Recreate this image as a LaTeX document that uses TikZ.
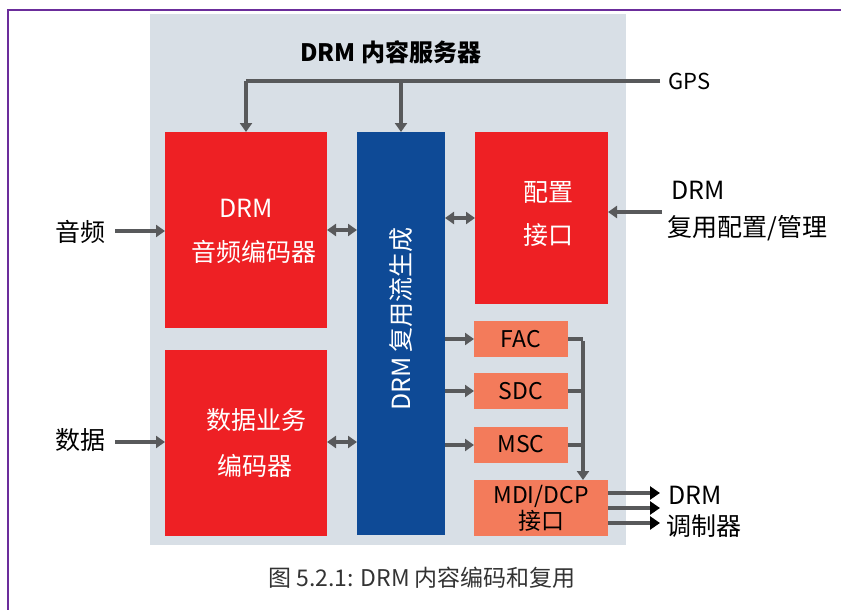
\documentclass[tikz,border=0pt]{standalone}
\usepackage{fontspec}
\setmainfont{Noto Sans CJK SC}
\usetikzlibrary{arrows.meta}
\definecolor{panelgray}{HTML}{D8DFE6}
\definecolor{boxred}{HTML}{EE2024}
\definecolor{boxblue}{HTML}{0E4A96}
\definecolor{salmon}{HTML}{F37B5B}
\definecolor{arrowgray}{HTML}{58595B}
\definecolor{framepurple}{HTML}{6B2D9B}
\definecolor{captext}{HTML}{333333}
\tikzset{
  box/.style={draw=none, inner sep=0, outer sep=0, anchor=north west},
  lbl/.style={inner sep=0, font=\fontsize{25}{29}\selectfont},
  wlbl/.style={lbl, text=white},
  smallbl/.style={inner sep=0, font=\fontsize{23}{27}\selectfont},
  flow/.style={draw=arrowgray, line width=4pt, -{Triangle[length=9pt,width=12pt]}},
  both/.style={draw=arrowgray, line width=4pt, {Triangle[length=9pt,width=12pt]}-{Triangle[length=9pt,width=12pt]}},
  plain/.style={draw=arrowgray, line width=4pt},
  outflow/.style={draw=arrowgray, line width=4pt, -{Triangle[length=10pt,width=13pt,color=black]}},
}
\begin{document}
\begin{tikzpicture}[x=1pt,y=-1pt]
\useasboundingbox (0,0) rectangle (841,610);
% frame
\draw[framepurple, line width=2.6pt] (841,10) -- (8,10) -- (8,610);
% panel
\node[box, fill=panelgray, minimum width=476pt, minimum height=531pt] (panel) at (150,14) {};
\node[font=\fontsize{24}{28}\selectfont\bfseries, inner sep=0] (title) at (391,52) {DRM 内容服务器};
% boxes
\node[box, fill=boxred, minimum width=162pt, minimum height=196pt] (aud) at (165,132) {};
\node[box, fill=boxred, minimum width=162pt, minimum height=186pt] (dat) at (165,350) {};
\node[box, fill=boxblue, minimum width=88pt, minimum height=403pt] (mux) at (357,132) {};
\node[box, fill=boxred, minimum width=133pt, minimum height=172pt] (cfg) at (475,132) {};
\node[box, fill=salmon, minimum width=94pt, minimum height=36pt] (fac) at (474,321) {};
\node[box, fill=salmon, minimum width=94pt, minimum height=36pt] (sdc) at (474,373) {};
\node[box, fill=salmon, minimum width=94pt, minimum height=36pt] (msc) at (474,427) {};
\node[box, fill=salmon, minimum width=134pt, minimum height=56pt] (mdi) at (474,480) {};
% box texts
\node[wlbl] (audA) at (246,208) {DRM};
\node[wlbl] (audB) at (254,252) {音频编码器};
\node[wlbl] (datA) at (256,420) {数据业务};
\node[wlbl] (datB) at (255,466) {编码器};
\node[wlbl, rotate=90] (muxT) at (401,319) {DRM 复用流生成};
\node[wlbl] (cfgA) at (548,192) {配置};
\node[wlbl] (cfgB) at (548,235) {接口};
\node[smallbl] (facT) at (521,339) {FAC};
\node[smallbl] (sdcT) at (521,391) {SDC};
\node[smallbl] (mscT) at (521,444) {MSC};
\node[smallbl] (mdiA) at (541,496) {MDI/DCP};
\node[smallbl] (mdiB) at (541,521) {接口};
% outside labels
\node[lbl] (inA) at (80,232) {音频};
\node[lbl] (inD) at (80,440) {数据};
\node[lbl, anchor=west, font=\fontsize{22}{26}\selectfont] (gps) at (668,81) {GPS};
\node[lbl, anchor=west] (cfgInA) at (671,190) {DRM};
\node[lbl, anchor=west] (cfgInB) at (667,228) {复用配置/管理};
\node[lbl, anchor=west] (outA) at (668,495) {DRM};
\node[lbl, anchor=west] (outB) at (666,526) {调制器};
\node[inner sep=0, text=captext, font=\fontsize{23}{27}\selectfont] (cap) at (422,578) {图 5.2.1: DRM 内容编码和复用};
% connectors
\coordinate (gpsend) at (660,81);
\draw[plain] (gpsend) -- (aud.north |- gpsend) coordinate (gpsL);
\draw[flow] (gpsL) -- (aud.north);
\draw[flow] (mux.north |- gpsend) -- (mux.north);
\draw[flow] (inA.east |- 0,231) ++(10,0) -- (aud.west |- 0,231);
\draw[flow] (inD.east |- 0,442) ++(10,0) -- (dat.west |- 0,442);
\draw[both] (aud.east |- 0,230) -- (mux.west |- 0,230);
\draw[both] (dat.east |- 0,442) -- (mux.west |- 0,442);
\draw[both] (mux.east |- 0,218) -- (cfg.west |- 0,218);
\coordinate (cfgin) at (662,212);
\draw[flow] (cfgin) -- (cfg.east |- cfgin);
\draw[flow] (mux.east |- fac.west) -- (fac.west);
\draw[flow] (mux.east |- sdc.west) -- (sdc.west);
\draw[flow] (mux.east |- msc.west) -- (msc.west);
\coordinate (bus) at (583,339);
\draw[plain] (fac.east) -- (bus);
\draw[plain] (sdc.east) -- (bus |- sdc.east);
\draw[plain] (msc.east) -- (bus |- msc.east);
\draw[flow] ([yshift=-2pt]bus) -- (bus |- mdi.north);
\coordinate (o1) at (660,493);
\coordinate (o2) at (660,508);
\coordinate (o3) at (660,523);
\draw[outflow] (mdi.east |- o1) -- (o1);
\draw[outflow] (mdi.east |- o2) -- (o2);
\draw[outflow] (mdi.east |- o3) -- (o3);
\end{tikzpicture}
\end{document}
